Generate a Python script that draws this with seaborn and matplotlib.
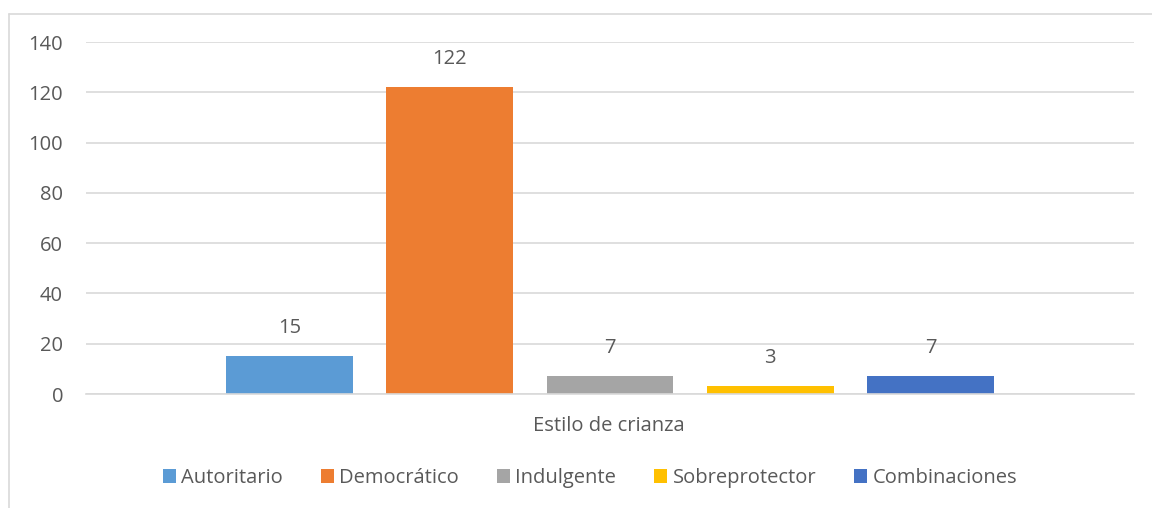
import matplotlib
matplotlib.use("Agg")
import matplotlib.pyplot as plt
import seaborn as sns
import pandas as pd
from matplotlib.lines import Line2D
from matplotlib.patches import Patch

category = ["Estilo de crianza"]
estilos = ["Autoritario", "Democrático", "Indulgente", "Sobreprotector", "Combinaciones"]
valores = [15, 122, 7, 3, 7]
colores = ["#5B9BD5", "#ED7D31", "#A5A5A5", "#FFC000", "#4472C4"]
yticks = [0, 20, 40, 60, 80, 100, 120, 140]

df = pd.DataFrame({"cat": category * len(estilos), "estilo": estilos, "valor": valores})

sns.set_theme(style="white")
plt.rcParams["font.family"] = ["Open Sans", "DejaVu Sans"]
txt = "#595959"
fs = 14.5

W, H = 1152, 508
fig = plt.figure(figsize=(W / 100, H / 100), dpi=100)
ax = fig.add_axes([86 / W, 1 - 394 / H, (1134 - 86) / W, (394 - 42) / H])

sns.barplot(data=df, x="cat", y="valor", hue="estilo", hue_order=estilos,
            palette=colores, width=0.765, gap=0.21, ax=ax, legend=False,
            saturation=1, edgecolor="none", linewidth=0)

ax.set_ylim(0, 140)
ax.set_xlim(-0.5, 0.5)
ax.set_yticks(yticks)
ax.set_yticklabels([str(v) for v in yticks], color=txt, fontsize=fs)
ax.tick_params(axis="y", length=0, pad=16.5)
ax.set_xticks([])
ax.set_xlabel("")
ax.set_ylabel("")
ax.grid(axis="y", color="#D9D9D9", linewidth=1.2)
ax.set_axisbelow(True)
for s in ["top", "right", "left"]:
    ax.spines[s].set_visible(False)
ax.spines["bottom"].set_color("#D9D9D9")
ax.spines["bottom"].set_linewidth(1.2)

for cont in ax.containers:
    ax.bar_label(cont, fmt="%d", padding=13, color=txt, fontsize=fs)

fig.text(609 / W, 1 - 426 / H, "Estilo de crianza", ha="center", va="center",
         color=txt, fontsize=fs)

handles = [Patch(facecolor=c, edgecolor="none") for c in colores]
fig.legend(handles, estilos, loc="center", bbox_to_anchor=(590 / W, 1 - 478 / H),
           ncol=5, frameon=False, fontsize=fs, labelcolor=txt,
           handlelength=0.65, handleheight=0.65, handletextpad=0.25, columnspacing=1.9)

# chart border (top and left visible)
fig.add_artist(Line2D([9 / W, 1.0], [1 - 13.5 / H, 1 - 13.5 / H], transform=fig.transFigure,
                      color="#D9D9D9", linewidth=1.2))
fig.add_artist(Line2D([9 / W, 9 / W], [0, 1 - 13.5 / H], transform=fig.transFigure,
                      color="#D9D9D9", linewidth=1.2))

fig.savefig("out.png", dpi=100)
